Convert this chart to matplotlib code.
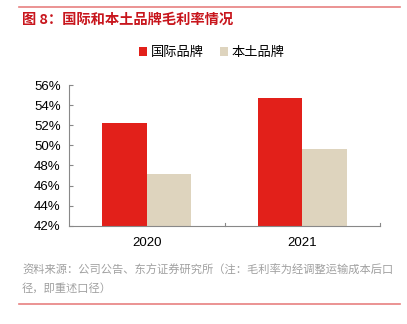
import matplotlib
matplotlib.use("Agg")
import matplotlib.pyplot as plt
import numpy as np
from matplotlib.lines import Line2D

plt.rcParams['font.family'] = ['Liberation Sans', 'Noto Sans CJK SC', 'DejaVu Sans']

categories = ['2020', '2021']
series_names = ['国际品牌', '本土品牌']
intl = [52.2, 54.7]
local = [47.1, 49.6]
yticks = [42, 44, 46, 48, 50, 52, 54, 56]
title = '图 8：国际和本土品牌毛利率情况'
source1 = '资料来源：公司公告、东方证券研究所（注：毛利率为经调整运输成本后口'
source2 = '径，即重述口径）'

red = '#E2201A'
beige = '#DED4BE'

fig = plt.figure(figsize=(4.07, 3.24), dpi=100)
ax = fig.add_axes([69/407, 1-225.7/324, (380-69)/407, (225.7-85)/324])

x = np.arange(len(categories))
w = 0.286
ax.bar(x - w/2, intl, width=w, color=red, label=series_names[0], zorder=2)
ax.bar(x + w/2, local, width=w, color=beige, label=series_names[1], zorder=2)

ax.set_ylim(42, 56)
ax.set_xlim(-0.5, 1.5)
ax.set_yticks(yticks)
ax.set_yticklabels([f'{v}%' for v in yticks], fontsize=9.5)
ax.set_xticks(x)
ax.set_xticklabels(categories, fontsize=9.5)
ax.tick_params(axis='x', length=0, pad=8)
ax.tick_params(axis='y', direction='in', length=3, color='#888888', pad=6)
for t in [0.5, 1.5]:
    ax.plot([t, t], [42, 42.25], color='#888888', lw=0.8, clip_on=False, zorder=3)
for s in ['top', 'right']:
    ax.spines[s].set_visible(False)
for s in ['left', 'bottom']:
    ax.spines[s].set_color('#888888')
    ax.spines[s].set_linewidth(0.8)

leg = fig.legend(loc='center', bbox_to_anchor=(212/407, 1-53/324), ncol=2, frameon=False,
                 fontsize=9.5, handlelength=0.6, handleheight=0.6, handletextpad=0.3,
                 columnspacing=1.2)

fig.text(22/407, 1-20/324, title, color='#C8161D', fontsize=10.3, fontweight='bold',
         va='center', ha='left', family=['Noto Sans CJK SC'])
fig.add_artist(Line2D([19/407, 400/407], [1-7/324, 1-7/324], color='#E88080', lw=1.2))
fig.add_artist(Line2D([19/407, 400/407], [1-304/324, 1-304/324], color='#E88080', lw=1.2))
fig.text(22/407, 1-270/324, source1, color='#A0A0A0', fontsize=8.1, va='center', ha='left',
         family=['Noto Sans CJK SC'])
fig.text(22/407, 1-288/324, source2, color='#A0A0A0', fontsize=8.1, va='center', ha='left',
         family=['Noto Sans CJK SC'])

fig.savefig('out.png', dpi=100)
